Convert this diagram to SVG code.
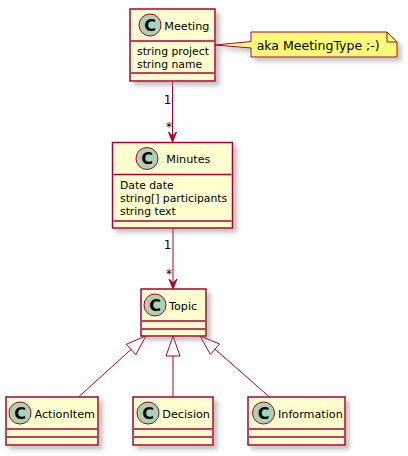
<svg xmlns="http://www.w3.org/2000/svg" width="408" height="456" viewBox="0 0 408 456">
<defs>
<filter id="sh" x="-20%" y="-20%" width="150%" height="160%">
<feGaussianBlur in="SourceAlpha" stdDeviation="2" result="b"/>
<feColorMatrix in="b" type="matrix" values="0 0 0 0 0.2  0 0 0 0 0.2  0 0 0 0 0.2  0 0 0 0.45 0" result="c"/>
<feOffset in="c" dx="4" dy="4" result="o"/>
<feMerge><feMergeNode in="o"/><feMergeNode in="SourceGraphic"/></feMerge>
</filter>
</defs>
<style>
.box{fill:#FEFECE;stroke:#A80036;stroke-width:1.5;filter:url(#sh)}
.sep{stroke:#A80036;stroke-width:1.5}
.circ{fill:#ADD1B2;stroke:#A80036;stroke-width:1}
.cl{font-family:"DejaVu Sans",sans-serif;font-size:16px;font-weight:bold;fill:#000;text-anchor:middle}
.nm{font-family:"DejaVu Sans",sans-serif;font-size:11.2px;fill:#000}
.at{font-family:"DejaVu Sans",sans-serif;font-size:10.8px;fill:#000}
.lb{font-family:"DejaVu Sans",sans-serif;font-size:12px;fill:#000}
.ln{stroke:#A80036;stroke-width:1;fill:none}
.ah{fill:#A80036;stroke:#A80036;stroke-width:1}
.tri{fill:none;stroke:#A80036;stroke-width:1}
.note{fill:#FBFB77;stroke:#A80036;stroke-width:1;filter:url(#sh)}
.nt{font-family:"DejaVu Sans",sans-serif;font-size:12.5px;fill:#000}
</style>

<g id="connectors">
<line class="ln" x1="172.5" y1="81" x2="172.5" y2="141"/>
<polygon class="ah" points="168.5,132 172.5,142 176.5,132 172.5,136"/>
<text class="lb" x="163.7" y="103.5">1</text>
<text class="lb" x="166" y="131">*</text>
<line class="ln" x1="173" y1="228" x2="173" y2="288"/>
<polygon class="ah" points="169,279 173,289 177,279 173,283"/>
<text class="lb" x="163.7" y="249">1</text>
<text class="lb" x="166" y="278">*</text>
<line class="ln" x1="131.1" y1="349.4" x2="78.5" y2="397"/>
<polygon class="tri" points="146,336 135.8,354.6 126.4,344.2"/>
<line class="ln" x1="173" y1="356" x2="173" y2="397"/>
<polygon class="tri" points="173,336 180,356 166,356"/>
<line class="ln" x1="215" y1="349.2" x2="269.5" y2="397"/>
<polygon class="tri" points="200,336 219.6,344 210.4,354.4"/>
</g>

<g id="Meeting">
<rect class="box" x="130" y="9" width="85" height="72"/>
<line class="sep" x1="131" y1="41" x2="214" y2="41"/>
<line class="sep" x1="131" y1="73" x2="214" y2="73"/>
<circle class="circ" cx="150" cy="25" r="11"/>
<text class="cl" x="150" y="30.8">C</text>
<text class="nm" x="164.3" y="29.5">Meeting</text>
<text class="at" x="137" y="55">string project</text>
<text class="at" x="137" y="68">string name</text>
</g>

<g id="note">
<path class="note" d="M251,32 L251,41.5 L215,45 L251,48 L251,57 L397,57 L397,42 L387,32 Z"/>
<path d="M387,32 L387,42 L397,42" fill="none" stroke="#A80036" stroke-width="1"/>
<text class="nt" x="256.7" y="50">aka MeetingType ;-)</text>
</g>

<g id="Minutes">
<rect class="box" x="112.5" y="142.5" width="120" height="85.5"/>
<line class="sep" x1="113.5" y1="174.5" x2="231.5" y2="174.5"/>
<line class="sep" x1="113.5" y1="221" x2="231.5" y2="221"/>
<circle class="circ" cx="147" cy="158.5" r="11"/>
<text class="cl" x="147" y="164.3">C</text>
<text class="nm" x="166.3" y="163">Minutes</text>
<text class="at" x="120" y="188.5">Date date</text>
<text class="at" x="120" y="201.5">string[] participants</text>
<text class="at" x="120" y="214.5">string text</text>
</g>

<g id="Topic">
<rect class="box" x="141" y="289" width="65" height="47"/>
<line class="sep" x1="142" y1="321" x2="205" y2="321"/>
<line class="sep" x1="142" y1="329" x2="205" y2="329"/>
<circle class="circ" cx="155" cy="305" r="11"/>
<text class="cl" x="155" y="310.8">C</text>
<text class="nm" x="169" y="310">Topic</text>
</g>

<g id="ActionItem">
<rect class="box" x="6" y="397" width="92" height="48"/>
<line class="sep" x1="7" y1="429" x2="97" y2="429"/>
<line class="sep" x1="7" y1="437" x2="97" y2="437"/>
<circle class="circ" cx="20" cy="413" r="11"/>
<text class="cl" x="20" y="418.8">C</text>
<text class="nm" x="34.5" y="418">ActionItem</text>
</g>

<g id="Decision">
<rect class="box" x="133" y="397" width="80" height="48"/>
<line class="sep" x1="134" y1="429" x2="212" y2="429"/>
<line class="sep" x1="134" y1="437" x2="212" y2="437"/>
<circle class="circ" cx="148" cy="413" r="11"/>
<text class="cl" x="148" y="418.8">C</text>
<text class="nm" x="162.3" y="418">Decision</text>
</g>

<g id="Information">
<rect class="box" x="248" y="397" width="97" height="48"/>
<line class="sep" x1="249" y1="429" x2="344" y2="429"/>
<line class="sep" x1="249" y1="437" x2="344" y2="437"/>
<circle class="circ" cx="263.5" cy="413" r="11"/>
<text class="cl" x="263.5" y="418.8">C</text>
<text class="nm" x="278" y="418">Information</text>
</g>
</svg>
